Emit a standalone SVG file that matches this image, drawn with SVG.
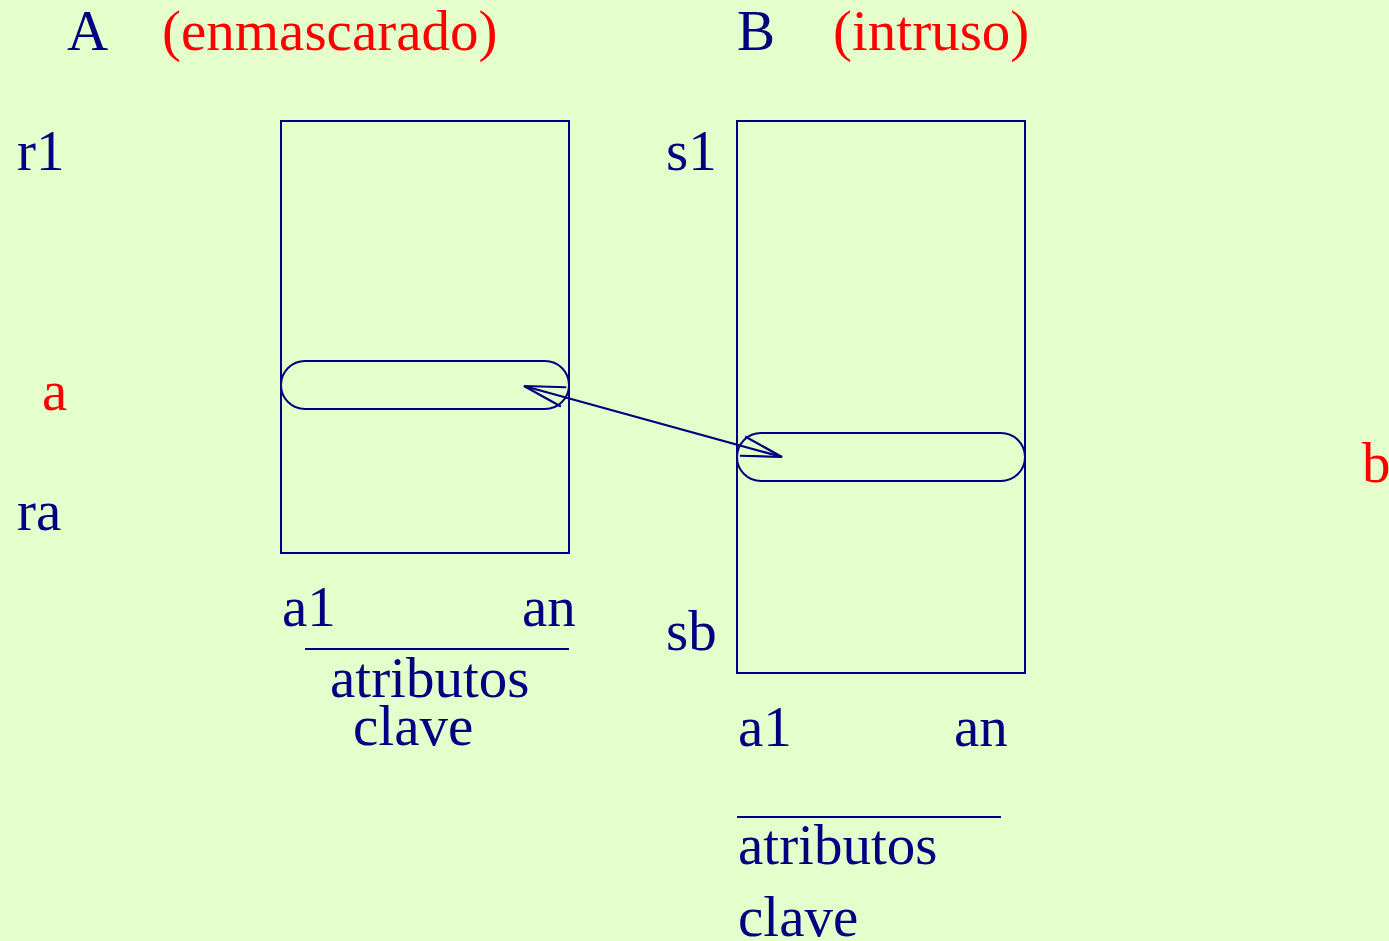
<svg xmlns="http://www.w3.org/2000/svg" width="1389" height="941" viewBox="0 0 1389 941">
  <style>
    .t { font-family: "Liberation Serif", "Times New Roman", serif; font-size: 57px; fill: #000080; }
    .r { fill: #ff0000; }
    .box { fill: none; stroke: #000080; stroke-width: 2; }
    .conn { fill: none; stroke: #000080; stroke-width: 2.2; }
  </style>
  <defs>
    <marker id="open" viewBox="-44 -12 48 24" markerWidth="48" markerHeight="24" refX="0" refY="0" markerUnits="userSpaceOnUse" orient="auto-start-reverse">
      <path d="M -41 -10 L 0 0 L -41 10" fill="none" stroke="#000080" stroke-width="2.2"/>
    </marker>
  </defs>
  <rect width="1389" height="941" fill="#e5ffcc"/>

  <!-- headings -->
  <g id="titleA">
    <text class="t" x="67" y="50">A</text>
    <text class="t r" x="162" y="50">(enmascarado)</text>
  </g>
  <g id="titleB">
    <text class="t" x="737" y="50">B</text>
    <text class="t r" x="833" y="50">(intruso)</text>
  </g>

  <!-- relation A -->
  <g id="relA">
    <rect class="box" x="281" y="121" width="288" height="432"/>
    <text class="t" x="17" y="170">r1</text>
    <text class="t r" x="42" y="410">a</text>
    <text class="t" x="17" y="530">ra</text>
    <text class="t" x="282" y="626">a1</text>
    <text class="t" x="522" y="626">an</text>
    <line class="box" x1="305" y1="649" x2="569" y2="649"/>
    <text class="t" x="330" y="697">atributos</text>
    <text class="t" x="353" y="745">clave</text>
  </g>
  <g id="tupleA">
    <rect class="box" x="281" y="361" width="288" height="48" rx="24" ry="24"/>
  </g>

  <!-- relation B -->
  <g id="relB">
    <rect class="box" x="737" y="121" width="288" height="552"/>
    <text class="t" x="666" y="170">s1</text>
    <text class="t" x="666" y="650">sb</text>
    <text class="t r" x="1362" y="482">b</text>
    <text class="t" x="738" y="746">a1</text>
    <text class="t" x="954" y="746">an</text>
    <line class="box" x1="737" y1="817" x2="1001" y2="817"/>
    <text class="t" x="738" y="864">atributos</text>
    <text class="t" x="738" y="936">clave</text>
  </g>
  <g id="tupleB">
    <rect class="box" x="737" y="433" width="288" height="48" rx="24" ry="24"/>
  </g>

  <!-- connectors -->
  <g id="connectors">
    <line class="conn" x1="524" y1="386" x2="782" y2="457" marker-start="url(#open)" marker-end="url(#open)"/>
  </g>
</svg>
